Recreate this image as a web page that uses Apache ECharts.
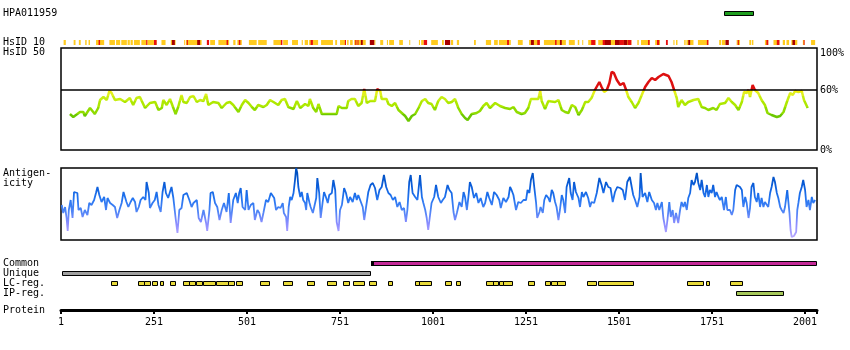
<!DOCTYPE html>
<html><head><meta charset="utf-8">
<script src="https://cdn.jsdelivr.net/npm/echarts@6/dist/echarts.min.js"></script>
<style>html,body{margin:0;padding:0;background:#fff}#c{width:850px;height:350px}</style>
</head><body><div id="c"></div>
<script>
// ---------- data (residue positions along the protein, 1..2033) ----------
const proteinLength = 2033;
const proteinTicks = [1, 251, 501, 751, 1001, 1251, 1501, 1751, 2001];
const antigenName = 'HPA011959';
const antigenRegion = [[1784, 1863]];
const trackNames = ['Common', 'Unique', 'LC-reg.', 'IP-reg.'];
const commonRegion = [[835, 2030]];
const uniqueRegion = [[4, 832]];
const lcRegions = [[135,151],[207,223],[223,239],[245,258],[268,276],[295,308],[330,346],[346,363],[363,379],[383,415],[418,449],[449,464],[471,488],[537,561],[599,622],[663,683],[717,742],[760,777],[786,815],[829,847],[881,893],[953,964],[964,995],[1034,1051],[1063,1075],[1142,1163],[1163,1176],[1179,1190],[1190,1215],[1257,1272],[1302,1315],[1317,1333],[1333,1355],[1415,1438],[1444,1538],[1684,1728],[1735,1742],[1799,1830]];
const ipRegions = [[1816, 1941]];
const hsid50Ticks = [0, 60, 100];

// HsID 10 strip: identity >= levels (yellow, red, dark red)
const hsid10Yellow = [[8,14],[35,40],[49,54],[66,70],[75,79],[95,117],[131,146],[149,160],[163,178],[180,186],[188,194],[197,213],[217,231],[233,258],[271,282],[296,309],[332,335],[337,379],[402,415],[424,453],[464,470],[475,487],[506,527],[531,554],[572,594],[598,611],[622,638],[648,651],[656,665],[668,692],[700,732],[738,743],[751,767],[770,774],[778,785],[789,820],[843,846],[859,867],[877,880],[883,896],[910,920],[937,939],[963,966],[969,976],[996,1014],[1025,1030],[1049,1055],[1065,1071],[1111,1116],[1143,1157],[1165,1175],[1178,1210],[1229,1242],[1259,1288],[1299,1358],[1366,1382],[1390,1394],[1402,1404],[1418,1438],[1445,1534],[1550,1554],[1560,1584],[1598,1611],[1647,1650],[1654,1658],[1676,1680],[1682,1701],[1713,1741],[1770,1775],[1777,1787],[1817,1826],[1851,1856],[1858,1862],[1893,1902],[1916,1932],[1941,1947],[1951,1958],[1964,1980],[1995,1999],[2017,2028]];
const hsid10Red = [[102,106],[230,233],[251,258],[339,342],[393,399],[446,450],[479,483],[592,596],[672,678],[764,767],[792,795],[798,800],[976,985],[1200,1205],[1281,1288],[1329,1333],[1426,1437],[1457,1466],[1503,1514],[1524,1534],[1579,1583],[1603,1609],[1627,1632],[1737,1741],[1820,1823],[1897,1902],[1925,1932],[1997,1999]];
const hsid10DarkRed = [[299,307],[367,375],[807,812],[831,843],[1033,1047],[1264,1272],[1342,1347],[1463,1479],[1490,1503],[1514,1523],[1687,1692],[1787,1796],[1967,1974]];

// HsID 50 (% identity) [residue, value]
const hsid50 = [[25,36],[34,33],[52,38],[61,38],[65,34],[79,42],[92,36],[101,42],[106,50],[115,53],[124,50],[131,59],[137,57],[146,50],[160,51],[173,48],[186,52],[195,45],[204,52],[213,53],[227,42],[240,47],[254,48],[263,40],[272,42],[276,50],[285,45],[294,51],[303,42],[309,36],[316,43],[325,55],[330,48],[339,47],[348,53],[357,54],[366,48],[375,50],[384,49],[391,56],[397,45],[410,48],[424,47],[433,42],[446,47],[455,48],[464,45],[478,38],[487,45],[496,50],[505,47],[514,43],[522,40],[531,45],[545,43],[554,45],[563,50],[572,48],[585,45],[594,50],[603,51],[612,43],
[617,42],[626,41],[635,49],[644,42],[657,46],[666,44],[670,51],[679,42],[687,38],[693,46],[702,36],[715,36],[742,36],[747,44],[756,42],[769,42],[773,49],[782,51],[791,51],[800,44],[809,47],[816,61],[823,47],[832,49],[845,49],[851,61],[854,63],[859,59],[863,51],[876,51],[881,46],[890,44],[899,47],[908,40],[917,37],[926,34],[935,29],[944,34],[953,36],[962,42],[971,49],[980,51],[988,47],[997,46],[1006,40],[1015,49],[1024,53],[1033,51],[1042,47],[1051,48],[1060,51],[1069,42],[1078,36],[1087,32],[1094,30],[1105,36],[1118,37],[1127,39],[1136,44],[1145,47],[1154,42],[1168,47],[1181,44],[1195,42],[1208,41],[1217,43],[1226,38],[1239,36],[1248,37],[1257,42],[1264,51],[1284,51],[1289,59],[1293,49],[1302,41],[1311,49],
[1329,48],[1338,50],[1347,40],[1356,38],[1365,37],[1374,45],[1383,43],[1392,35],[1401,40],[1410,48],[1418,48],[1427,52],[1436,60],[1441,58],[1448,68],[1454,63],[1461,58],[1468,60],[1475,67],[1481,78],[1487,77],[1495,70],[1504,65],[1513,67],[1520,60],[1526,53],[1535,48],[1544,42],[1553,47],[1562,55],[1571,63],[1580,68],[1589,72],[1598,70],[1607,73],[1620,76],[1634,74],[1642,68],[1649,60],[1656,52],[1660,43],[1669,50],[1678,45],[1687,48],[1701,50],[1714,51],[1723,43],[1732,42],[1741,40],[1754,42],[1763,40],[1772,46],[1786,47],[1795,52],[1804,48],[1813,45],[1822,40],[1831,48],[1837,58],[1844,57],[1849,60],[1853,53],[1860,65],[1866,60],[1875,57],[1884,50],[1893,45],[1900,37],[1911,35],[1925,33],[1934,34],[1943,38],[1952,48],[1961,57],[1968,55],[1974,59],[1983,58],[1992,59],[1998,50],[2008,42]];

// Antigenicity (arbitrary score) [residue, value]
const antigenicity = [[3,35],[7,27],[12,33],[16,22],[19,9],[22,30],[27,40],[32,22],[36,48],[41,50],[45,47],[48,30],[54,32],[59,23],[65,30],[72,25],[77,37],[83,35],[90,40],[95,47],[99,53],[104,45],[110,38],[117,43],[122,30],[126,42],[133,37],[140,35],[146,33],[152,22],[158,30],[164,37],[169,48],[173,47],[177,38],[182,33],[188,38],[194,42],[200,38],[204,28],[210,33],[215,40],[222,43],[228,40],[231,58],[237,47],[240,32],[247,37],[253,40],[258,48],[263,35],[269,28],[274,48],[279,58],[283,47],[289,42],[294,43],[298,53],[303,42],[309,22],[314,7],[319,30],[325,32],[330,45],[334,43],[339,47],[346,40],[352,33],[357,37],[366,40],[371,22],[377,18],[384,30],[391,17],[394,9],[400,30],[403,47],[409,48],[415,37],[421,33],[427,20],[433,30],[439,37],[446,28],[452,47],[457,17],[464,40],[471,47],[476,37],[480,47],[484,52],[489,33],[496,30],[500,50],[505,30],[511,35],[518,37],[522,20],[529,30],[534,27],[540,18],[545,27],[552,40],[558,38],[565,47],[570,47],[574,42],[579,30],[585,33],[591,32],[597,37],[600,27],[606,23],[609,9],[613,33],
[617,43],[621,40],[626,47],[630,60],[633,72],[636,67],[639,53],[644,43],[648,48],[652,40],[657,37],[660,30],[663,47],[669,37],[672,33],[678,27],[681,32],[687,42],[690,62],[695,47],[699,22],[704,37],[708,48],[713,43],[718,37],[722,45],[729,47],[733,60],[738,50],[742,18],[747,9],[751,30],[756,35],[762,52],[767,47],[773,37],[778,43],[785,38],[791,47],[796,40],[800,45],[807,38],[812,33],[816,20],[821,33],[827,48],[833,55],[839,57],[845,52],[851,40],[857,50],[863,53],[869,65],[875,53],[881,47],[887,45],[893,40],[899,43],[905,33],[911,38],[917,30],[923,32],[928,18],[932,30],[937,58],[941,65],[946,47],[953,43],[959,40],[966,65],[971,43],[975,37],[980,30],[984,22],[988,10],[993,25],[997,37],[1004,43],[1009,55],[1015,43],[1022,37],[1027,40],[1033,43],[1040,55],[1045,50],[1051,47],[1056,28],[1060,20],[1065,27],[1072,38],[1078,33],[1083,48],[1087,43],[1092,30],[1096,43],[1100,58],[1105,53],[1111,42],[1117,47],[1123,37],[1129,42],[1136,33],[1141,37],[1147,48],[1152,42],[1159,35],[1165,48],[1172,45],[1179,40],[1183,32],[1190,42],[1197,38],[1204,43],[1208,53],[1212,50],[1217,45],[1224,30],[1230,38],[1237,37],[1244,40],[1251,40],[1255,50],[1260,47],[1264,60],[1269,67],[1273,53],[1278,37],[1281,22],[1287,28],[1290,33],[1296,27],[1300,40],[1305,45],[1311,42],
[1315,38],[1320,50],[1324,47],[1329,38],[1333,33],[1338,20],[1342,30],[1347,45],[1351,40],[1356,27],[1360,53],[1365,52],[1367,62],[1371,47],[1376,40],[1380,58],[1385,48],[1392,42],[1396,33],[1401,48],[1405,43],[1412,48],[1418,42],[1423,33],[1427,38],[1434,37],[1441,47],[1448,62],[1454,55],[1459,47],[1466,58],[1472,53],[1478,52],[1484,38],[1490,48],[1496,53],[1504,52],[1511,50],[1517,40],[1523,58],[1530,63],[1535,65],[1539,45],[1544,40],[1550,33],[1556,43],[1559,67],[1564,43],[1571,47],[1577,38],[1582,48],[1589,40],[1595,37],[1600,30],[1604,37],[1609,30],[1616,38],[1620,22],[1625,20],[1627,8],[1631,20],[1636,38],[1640,23],[1645,30],[1649,17],[1654,27],[1660,17],[1665,30],[1669,38],[1674,33],[1678,38],[1683,30],[1687,42],[1692,47],[1696,60],[1701,55],[1705,58],[1710,67],[1714,57],[1719,50],[1723,60],[1728,47],[1732,43],[1737,55],[1741,43],[1745,50],[1750,47],[1754,55],[1759,43],[1763,48],[1768,43],[1772,40],[1777,43],[1783,30],[1788,43],[1792,30],[1799,30],[1804,25],[1808,30],[1813,50],[1817,55],[1822,57],[1826,53],[1831,50],[1835,33],[1840,43],[1844,37],[1849,22],[1853,32],[1857,53],[1862,57],[1866,43],[1871,38],[1875,47],[1880,33],[1884,42],[1889,33],[1893,38],[1898,40],[1902,33],[1907,47],[1911,53],[1916,63],[1920,58],[1925,47],[1929,42],[1934,33],[1938,30],[1943,27],[1947,33],[1953,50],[1959,27],[1962,10],[1965,3],[1971,4],[1977,8],[1980,30],[1983,37],[1987,47],[1992,53],[1996,60],[2001,50],[2005,33],[2010,40],[2014,30],[2019,43],[2023,37],[2028,40]];

// ---------- chart ----------
const FONT = '"DejaVu Sans Mono", monospace';
const L = 61, W = 756;
const chart = echarts.init(document.getElementById('c'), null, {renderer: 'canvas'});

function xAx(i, extra) {
  return Object.assign({gridIndex: i, type: 'value', min: 1, max: proteinLength, show: false}, extra || {});
}
function yHidden(i, min, max) { return {gridIndex: i, type: 'value', min: min, max: max, show: false}; }

function boxRenderer(fill, h, startMark) {
  return function (params, api) {
    const s = api.value(0), e = api.value(1), row = api.value(2) || 0;
    const a = api.coord([s, row]), b = api.coord([e, row]);
    const children = [{type: 'rect', shape: {x: Math.round(a[0]) + 0.5, y: Math.round(a[1] - h / 2) + 0.5, width: Math.max(1, Math.round(b[0] - a[0])), height: h},
      style: {fill: fill, stroke: '#000', lineWidth: 1}}];
    if (startMark) children.push({type: 'rect', shape: {x: Math.round(a[0]), y: Math.round(a[1] - h / 2), width: 3, height: h + 1}, style: {fill: '#000'}});
    return {type: 'group', children: children};
  };
}
function stripRenderer(fill) {
  return function (params, api) {
    const a = api.coord([api.value(0), 1]), b = api.coord([api.value(1), 0]);
    return {type: 'rect', shape: {x: a[0], y: a[1], width: Math.max(1, b[0] - a[0]), height: b[1] - a[1]}, style: {fill: fill}};
  };
}
const rowData = (arr, r) => arr.map(d => [d[0], d[1], r]);

const textItems = [
  [antigenName, 3, 13], ['HsID 10', 3, 42.5], ['HsID 50', 3, 52.5],
  ['Antigen-', 3, 173.5], ['icity', 3, 183.5],
  ['Common', 3, 263], ['Unique', 3, 273], ['LC-reg.', 3, 283], ['IP-reg.', 3, 293], ['Protein', 3, 310]
];

const option = {
  animation: false,
  backgroundColor: '#fff',
  graphic: textItems.map(t => ({type: 'text', x: t[1], y: t[2],
    style: {text: t[0], font: '10px ' + FONT, fill: '#000', verticalAlign: 'middle', align: 'left'}})),
  grid: [
    {left: L, width: W, top: 7.5, height: 10},
    {left: L, width: W, top: 40, height: 5},
    {left: L, width: W, top: 48, height: 102, show: true, borderColor: '#000', borderWidth: 1.5, backgroundColor: 'transparent'},
    {left: L, width: W, top: 168, height: 72, show: true, borderColor: '#000', borderWidth: 1.5, backgroundColor: 'transparent'},
    {left: L, width: W, top: 257.5, height: 40},
    {left: L, width: W, top: 300, height: 10}
  ],
  xAxis: [
    xAx(0), xAx(1), xAx(2), xAx(3), xAx(4),
    xAx(5, {show: true, position: 'bottom',
      axisLine: {show: true, onZero: false, lineStyle: {color: '#000', width: 3}},
      axisTick: {show: true, customValues: proteinTicks.concat([proteinLength]), length: 4, lineStyle: {color: '#000', width: 2}},
      axisLabel: {show: true, customValues: proteinTicks, margin: 7, color: '#000', fontFamily: FONT, fontSize: 10,
        formatter: v => String(v)},
      splitLine: {show: false}})
  ],
  yAxis: [
    yHidden(0, 0, 1), yHidden(1, 0, 1),
    {gridIndex: 2, type: 'value', min: 0, max: 102, position: 'right',
      axisLine: {show: false}, axisTick: {show: false}, splitLine: {show: false},
      axisLabel: {show: true, customValues: hsid50Ticks, margin: 3, align: 'left', color: '#000', fontFamily: FONT, fontSize: 10,
        formatter: v => v === 100 ? '{t|100%}' : v + '%',
        rich: {t: {padding: [6, 0, 0, 0], fontFamily: FONT, fontSize: 10, color: '#000'}}}},
    yHidden(3, 0, 72),
    {gridIndex: 4, type: 'category', data: trackNames, inverse: true, show: false},
    yHidden(5, 0, 1)
  ],
  visualMap: [
    {type: 'piecewise', show: false, seriesIndex: 4, dimension: 1,
      pieces: [
        {lt: 36, color: '#6cc800'},
        {gte: 36, lt: 43, color: '#90dc00'},
        {gte: 43, lt: 49, color: '#aee800'},
        {gte: 49, lt: 54, color: '#c6ee10'},
        {gte: 54, lt: 58, color: '#e0f020'},
        {gte: 58, lt: 60.5, color: '#f8f000'},
        {gte: 60.5, color: '#dd1010'}
      ]},
    {type: 'continuous', show: false, seriesIndex: 5, dimension: 1, min: 3, max: 68,
      inRange: {color: ['#b6a8ff', '#8c8cff', '#4c84f6', '#2274f0', '#0a5cd8', '#0050c0']}}
  ],
  series: [
    {type: 'custom', xAxisIndex: 0, yAxisIndex: 0, encode: {x: [0, 1]}, data: antigenRegion.map(d => [d[0], d[1], 0.5]), renderItem: boxRenderer('#1f9e1f', 4)},
    {type: 'custom', xAxisIndex: 1, yAxisIndex: 1, encode: {x: [0, 1]}, data: hsid10Yellow, renderItem: stripRenderer('#ffcb1f')},
    {type: 'custom', xAxisIndex: 1, yAxisIndex: 1, encode: {x: [0, 1]}, data: hsid10Red, renderItem: stripRenderer('#e81010')},
    {type: 'custom', xAxisIndex: 1, yAxisIndex: 1, encode: {x: [0, 1]}, data: hsid10DarkRed, renderItem: stripRenderer('#a80000')},
    {type: 'line', xAxisIndex: 2, yAxisIndex: 2, data: hsid50, showSymbol: false, symbol: 'none',
      lineStyle: {width: 2.5}, z: 3,
      markLine: {silent: true, symbol: 'none', label: {show: false}, lineStyle: {color: '#000', width: 1.5, type: 'solid'}, data: [{yAxis: 60}]}},
    {type: 'line', xAxisIndex: 3, yAxisIndex: 3, data: antigenicity, showSymbol: false, symbol: 'none', lineStyle: {width: 1.8}},
    {type: 'custom', xAxisIndex: 4, yAxisIndex: 4, encode: {x: [0, 1]}, data: rowData(commonRegion, 0), renderItem: boxRenderer('#c42a98', 4, true)},
    {type: 'custom', xAxisIndex: 4, yAxisIndex: 4, encode: {x: [0, 1]}, data: rowData(uniqueRegion, 1), renderItem: boxRenderer('#a0a0a0', 4)},
    {type: 'custom', xAxisIndex: 4, yAxisIndex: 4, encode: {x: [0, 1]}, data: rowData(lcRegions, 2), renderItem: boxRenderer('#e8da3a', 4)},
    {type: 'custom', xAxisIndex: 4, yAxisIndex: 4, encode: {x: [0, 1]}, data: rowData(ipRegions, 3), renderItem: boxRenderer('#a6c85a', 4)},
    {type: 'line', xAxisIndex: 5, yAxisIndex: 5, data: []}
  ]
};
chart.setOption(option);
</script></body></html>
